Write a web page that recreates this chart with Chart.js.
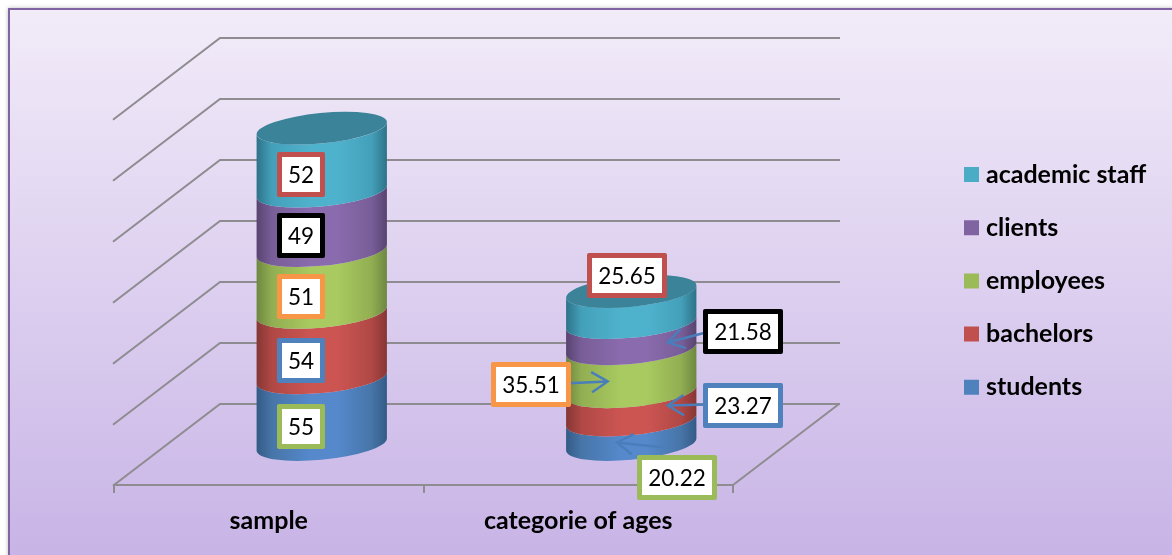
<!DOCTYPE html>
<html>
<head>
<meta charset="utf-8">
<title>Sample and age categories</title>
<style>
  html, body { margin: 0; padding: 0; background: #fff; }
  canvas { display: block; }
</style>
<script src="https://cdn.jsdelivr.net/npm/chart.js@4/dist/chart.umd.js"></script>
</head>
<body>
<canvas id="chart" width="1172" height="555"></canvas>
<script>
// Data, listed from the bottom of the stack upwards
const categories = ['sample', 'categorie of ages'];
const seriesNames = ['students', 'bachelors', 'employees', 'clients', 'academic staff'];
const students = [55, 20.22];
const bachelors = [54, 23.27];
const employees = [51, 35.51];
const clients = [49, 21.58];
const academicStaff = [52, 25.65];
const seriesValues = [students, bachelors, employees, clients, academicStaff];

// Fill colour with darker edge and brighter centre tones for the cylinder shading
const seriesColors = ['#4f81bd', '#c0504d', '#9bbb59', '#8064a2', '#4bacc6'];
const edgeColors = ['#335a85', '#853634', '#6d8740', '#58436f', '#2d7287'];
const midColors = ['#4775a8', '#b04845', '#92ae52', '#785e98', '#44a0ba'];
const brightColors = ['#5589cc', '#cc5552', '#a8ca60', '#8a6bad', '#4fb2cd'];

// Callout styling: border colour per series
const calloutBorders = ['#9bbb59', '#4f81bd', '#f79646', '#000000', '#c0504d'];

// Callout box placement relative to the middle of its cylinder band
const calloutOffsets = [
  [[-21, 15], [-21, 15], [-21, 15], [-21, 15], [-21, 15]],
  [[45.5, 45.3], [111.5, -0.4], [-100.5, 14.7], [111.5, -3.7], [-4, -31.1]]
];
// Leader arrows as [tailX, tailY, headX, headY], relative to the same point
const calloutArrows = [
  [null, null, null, null, null],
  [[33.5, 15.3, -14.5, 10.3], [76.5, -1.4, 36.5, -0.4], [-68.5, 13.2, -23.5, 11.2], [74.5, -3.2, 36.5, 6.8], null]
];

// Oblique projection of the 3D box
const DEPTH_X = 106;
const DEPTH_Y = 81;
const HEIGHT_RATIO = 0.9934;
const TILT = -5.6 * Math.PI / 180;
const ELLIPSE_MINOR = 15.2;
const GRID_COLOR = '#8e8c90';
const FONT_FAMILY = 'Lato, Carlito, sans-serif';

const panelPlugin = {
  id: 'panel',
  beforeDraw(chart) {
    const { ctx, width, height } = chart;
    ctx.save();
    ctx.shadowColor = 'rgba(0,0,0,0.28)';
    ctx.shadowBlur = 4;
    ctx.fillStyle = '#8064a2';
    ctx.fillRect(8, 8, width, height);
    ctx.restore();
    const g = ctx.createLinearGradient(0, 10, 0, height);
    g.addColorStop(0, '#f2ecf9');
    g.addColorStop(1, '#c8b4e6');
    ctx.fillStyle = g;
    ctx.fillRect(10, 10, width, height);
  }
};

const wallsPlugin = {
  id: 'walls',
  beforeDatasetsDraw(chart) {
    const { ctx, chartArea, scales } = chart;
    const { left, right } = chartArea;
    ctx.save();
    ctx.strokeStyle = GRID_COLOR;
    ctx.lineWidth = 2;
    ctx.beginPath();
    scales.y.ticks.forEach(t => {
      const y = scales.y.getPixelForValue(t.value);
      ctx.moveTo(left - 1, y + 0.7);
      ctx.lineTo(left + DEPTH_X, y - DEPTH_Y);
      ctx.lineTo(right + DEPTH_X + 1, y - DEPTH_Y);
    });
    const floorY = scales.y.getPixelForValue(0);
    ctx.moveTo(right + DEPTH_X, floorY - DEPTH_Y);
    ctx.lineTo(right, floorY);
    ctx.stroke();
    ctx.restore();
  }
};

function bandGradient(ctx, cx, a, i) {
  const g = ctx.createLinearGradient(cx - a, 0, cx + a, 0);
  g.addColorStop(0, edgeColors[i]);
  g.addColorStop(0.12, midColors[i]);
  g.addColorStop(0.42, brightColors[i]);
  g.addColorStop(0.62, brightColors[i]);
  g.addColorStop(0.88, midColors[i]);
  g.addColorStop(1, edgeColors[i]);
  return g;
}

function drawArrow(ctx, x0, y0, x1, y1) {
  const ang = Math.atan2(y1 - y0, x1 - x0);
  const len = 19, spread = 0.56;
  ctx.strokeStyle = '#4a7ebb';
  ctx.lineWidth = 2.4;
  ctx.beginPath();
  ctx.moveTo(x0, y0);
  ctx.lineTo(x1, y1);
  ctx.moveTo(x1 - len * Math.cos(ang - spread), y1 - len * Math.sin(ang - spread));
  ctx.lineTo(x1, y1);
  ctx.lineTo(x1 - len * Math.cos(ang + spread), y1 - len * Math.sin(ang + spread));
  ctx.stroke();
}

function drawCallout(ctx, text, cx, cy, border) {
  ctx.font = '22.5px ' + FONT_FAMILY;
  const w = Math.round(ctx.measureText(text).width) + 22;
  const h = 45;
  const x = Math.round(cx - w / 2), y = Math.round(cy - h / 2);
  ctx.fillStyle = border;
  ctx.beginPath();
  ctx.roundRect(x, y, w, h, 2);
  ctx.fill();
  ctx.fillStyle = '#ffffff';
  ctx.fillRect(x + 5, y + 5, w - 10, h - 10);
  ctx.fillStyle = '#000000';
  ctx.textAlign = 'center';
  ctx.textBaseline = 'middle';
  ctx.fillText(text, x + w / 2, y + h / 2 + 1);
}

const cylinderPlugin = {
  id: 'cylinders',
  // Replaces the flat bars: geometry still comes from the bar elements and scales
  beforeDatasetsDraw(chart) {
    const { ctx, scales } = chart;
    const y0 = scales.y.getPixelForValue(0);
    const project = py => y0 - (y0 - py) * HEIGHT_RATIO - DEPTH_Y / 2;
    const calloutJobs = [];

    categories.forEach((_, c) => {
      const first = chart.getDatasetMeta(0).data[c];
      const a = first.width / 2;
      const cx = first.x + DEPTH_X / 2;
      const t0 = Math.atan(-(ELLIPSE_MINOR / a) * Math.tan(TILT));
      let topY = 0;

      seriesNames.forEach((_, s) => {
        const el = chart.getDatasetMeta(s).data[c];
        const yBase = project(el.base);
        const yTop = project(el.y);
        topY = yTop;
        ctx.beginPath();
        ctx.ellipse(cx, yBase, a, ELLIPSE_MINOR, TILT, t0, t0 + Math.PI, false);
        ctx.ellipse(cx, yTop, a, ELLIPSE_MINOR, TILT, t0 + Math.PI, t0, true);
        ctx.closePath();
        ctx.fillStyle = bandGradient(ctx, cx, a, s);
        ctx.fill();
        calloutJobs.push({ c, s, cx, mid: (yBase + yTop) / 2 });
      });

      ctx.beginPath();
      ctx.ellipse(cx, topY, a, ELLIPSE_MINOR, TILT, 0, Math.PI * 2);
      ctx.fillStyle = '#3a8398';
      ctx.fill();
    });

    calloutJobs.forEach(({ c, s, cx, mid }) => {
      const arrow = calloutArrows[c][s];
      if (arrow) drawArrow(ctx, cx + arrow[0], mid + arrow[1], cx + arrow[2], mid + arrow[3]);
    });
    calloutJobs.forEach(({ c, s, cx, mid }) => {
      const off = calloutOffsets[c][s];
      drawCallout(ctx, String(seriesValues[s][c]), cx + off[0], mid + off[1], calloutBorders[s]);
    });
    return false;
  }
};

// Moves the legend from the plot into the column at the right of the panel
const legendPlacement = {
  id: 'legendPlacement',
  afterLayout(chart) {
    const legend = chart.legend;
    const w = legend.width, h = legend.height;
    legend.left = 941.3;
    legend.right = 941.3 + w;
    legend.top = 133.8;
    legend.bottom = 133.8 + h;
    legend.adjustHitBoxes();
  }
};

new Chart(document.getElementById('chart'), {
  type: 'bar',
  data: {
    labels: categories,
    datasets: seriesNames.map((name, i) => ({
      label: name,
      data: seriesValues[i],
      backgroundColor: seriesColors[i]
    }))
  },
  plugins: [panelPlugin, wallsPlugin, cylinderPlugin, legendPlacement],
  options: {
    responsive: false,
    animation: false,
    layout: { padding: { left: 114, right: 439, top: 119, bottom: 0 } },
    datasets: { bar: { categoryPercentage: 1, barPercentage: 0.423 } },
    scales: {
      x: {
        stacked: true,
        afterFit(s) { s.height = 70; },
        grid: { drawOnChartArea: false, color: GRID_COLOR, lineWidth: 2, tickLength: 8, offset: true },
        border: { display: true, color: GRID_COLOR, width: 2 },
        ticks: { color: '#000', padding: 13, maxRotation: 0, font: { family: FONT_FAMILY, size: 25, weight: 'bold' } }
      },
      y: {
        stacked: true,
        min: 0,
        max: 300,
        afterFit(s) { s.width = 0; },
        ticks: { display: false, stepSize: 50 },
        grid: { display: false },
        border: { display: false }
      }
    },
    plugins: {
      title: { display: false },
      tooltip: { enabled: false },
      legend: {
        position: 'chartArea',
        align: 'start',
        reverse: true,
        labels: {
          color: '#000',
          padding: 28.2,
          boxWidth: 4,
          boxHeight: 4,
          font: { family: FONT_FAMILY, size: 25, weight: 'bold' },
          // A thick same-colour outline makes the 15px swatch sit close to its text
          generateLabels(chart) {
            return Chart.defaults.plugins.legend.labels.generateLabels(chart).map(item => {
              item.strokeStyle = item.fillStyle;
              item.lineWidth = 11;
              return item;
            });
          }
        }
      }
    }
  }
});
</script>
</body>
</html>
